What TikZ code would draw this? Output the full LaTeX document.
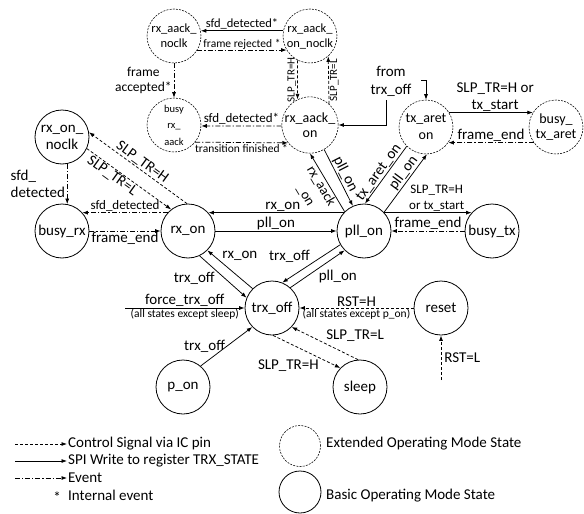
\documentclass[tikz,border=0pt]{standalone}
\usepackage{fontspec}
\setmainfont{Carlito}
\usetikzlibrary{arrows.meta}

\tikzset{
	basic/.style={circle, draw, line width=0.8pt, minimum size=54pt, inner sep=0pt, align=center, font=\fontsize{15}{17}\selectfont},
	ext/.style={basic, line width=0.55pt, dash pattern=on 2pt off 1.2pt},
	spi/.style={line width=0.75pt, -{Latex[length=5.5pt, width=4pt]}},
	ctrl/.style={spi, dash pattern=on 3pt off 2pt},
	evt/.style={spi, dash pattern=on 5pt off 2pt on 1.2pt off 2pt},
	lbl/.style={inner sep=1pt, align=center, font=\fontsize{15}{17}\selectfont},
	lblmid/.style={lbl, font=\fontsize{13}{16}\selectfont},
	lblsmall/.style={lbl, font=\fontsize{11.5}{13}\selectfont}
}

\begin{document}
\begin{tikzpicture}[x=1pt, y=-1pt]
	\useasboundingbox (0,0) rectangle (584,514);

	\node[ext, font=\fontsize{12.5}{15}\selectfont] (aacknoclk) at (174,36) {rx\_aack\_\\noclk};
	\node[ext, font=\fontsize{12.5}{15}\selectfont] (aackonnoclk) at (310,36) {rx\_aack\_\\on\_noclk};
	\node[ext, font=\fontsize{10.5}{16.5}\selectfont] (busyaack) at (174,125) {busy\\rx\_\\aack};
	\node[ext, font=\fontsize{14}{15}\selectfont] (aackon) at (310,125) {rx\_aack\_\\on};
	\node[ext, font=\fontsize{14}{17}\selectfont] (txareton) at (426,127) {tx\_aret\\on};
	\node[ext, font=\fontsize{14}{15}\selectfont] (busytxaret) at (556,127) {busy\_\\tx\_aret};

	\node[basic] (rxonnoclk) at (62,137) {rx\_on\_\\noclk};
	\node[basic] (busyrx) at (62,231) {busy\_rx};
	\node[basic] (rxon) at (188,231) {rx\_on};
	\node[basic] (pllon) at (364,231) {pll\_on};
	\node[basic] (busytx) at (492,231) {busy\_tx};
	\node[basic] (trxoff) at (272,308) {trx\_off};
	\node[basic] (reset) at (441,308) {reset};
	\node[basic] (pon) at (183,387) {p\_on};
	\node[basic] (sleep) at (360,387) {sleep};

	\draw[spi] (aackonnoclk.169) -- node[above, lblmid, font=\fontsize{12.5}{15}\selectfont] {sfd\_detected*} (aacknoclk.11);
	\draw[evt] (aacknoclk.-31) -- node[above, lblsmall, inner sep=0.5pt] {frame rejected *} (aackonnoclk.211);
	\draw[evt] (aacknoclk) -- node[left, lblmid, font=\fontsize{13.5}{15}\selectfont, inner sep=2pt] {frame\\accepted*} (busyaack);
	\draw[evt] (aackon.182) -- node[above, lblmid] {sfd\_detected*} (busyaack.-2);
	\draw[evt] (busyaack.-39) -- node[below, lblsmall] {transition finished *} (aackon.219);
	\draw[ctrl] (aackonnoclk.243.6) -- node[lblsmall, font=\fontsize{11}{13}\selectfont, rotate=90, anchor=south] {SLP\_TR=H} (aackon.116.4);
	\draw[ctrl] (aackon.48.2) -- node[lblsmall, font=\fontsize{11}{13}\selectfont, rotate=90, anchor=north] {SLP\_TR=L} (aackonnoclk.-48.2);

	\node[lbl, font=\fontsize{15}{18}\selectfont] (fromtrx) at (391,81) {from\\trx\_off};
	\coordinate (fromaack) at (386,100);
	\coordinate (fromaret) at (421,80);
	\draw[spi] (fromaack) |- (aackon.east);
	\draw[spi] (fromaret) -| (txareton.north);

	\draw[spi] (txareton.32) -- node[above, lbl, pos=0.55] {SLP\_TR=H or\\tx\_start} (busytxaret.148);
	\draw[evt] (busytxaret.215) -- node[above, lbl] {frame\_end} (txareton.-35);

	\draw[spi] (pllon.135) -- node[below, sloped, lbl, font=\fontsize{14}{18}\selectfont] {rx\_aack\\\_on} (aackon.270);
	\draw[spi] (aackon.300.6) -- node[above, sloped, lbl] {pll\_on} (pllon.114.8);
	\draw[spi] (txareton.225) -- node[above, sloped, lbl, pos=0.53] {tx\_aret\_on} (pllon.88);
	\draw[spi] (pllon.43.5) -- node[above, sloped, lbl, pos=0.6] {pll\_on} (txareton.-88);

	\draw[spi] (pllon.42) -- node[above, lblmid, pos=0.6] {SLP\_TR=H\\or tx\_start} (busytx.138);
	\draw[evt] (busytx.180) -- node[above, lbl] {frame\_end} (pllon.0);
	\draw[spi] (pllon.138) -- node[above, lbl, pos=0.45] {rx\_on} (rxon.42);
	\draw[spi] (rxon.0) -- node[above, lbl] {pll\_on} (pllon.180);

	\draw[ctrl] (rxon.92) -- node[above, sloped, lbl] {SLP\_TR=H} (rxonnoclk.10);
	\draw[ctrl] (rxonnoclk.-25.5) -- node[below, sloped, lbl, pos=0.35] {SLP\_TR=L} (rxon.128);
	\draw[evt] (rxonnoclk.-79) -- node[left, lbl, align=left, inner sep=2pt] {sfd\_\\detected} (busyrx.79);
	\draw[evt] (rxon.138) -- node[above, lblmid] {sfd\_detected} (busyrx.42);
	\draw[evt] (busyrx.0) -- node[below, lbl] {frame\_end} (rxon.180);

	\draw[spi] (trxoff.135) -- node[above right, lbl, pos=0.7] {rx\_on} (rxon.-45);
	\draw[spi] (rxon.-65) -- node[below left, lbl, pos=0.35] {trx\_off} (trxoff.158);
	\draw[spi] (pllon.210) -- node[above left, lbl] {trx\_off} (trxoff.68);
	\draw[spi] (trxoff.48) -- node[below right, lbl] {pll\_on} (pllon.225);

	\coordinate (forcein) at (125,308);
	\draw[spi] (forcein) -- node[above, lbl] {force\_trx\_off} node[below, lblsmall] {(all states except sleep)} (trxoff.west);
	\draw[ctrl] (reset.west) -- node[above, lbl] {RST=H} node[below, lblsmall] {(all states except p\_on)} (trxoff.east);
	\coordinate (rstlow) at (441,380);
	\draw[ctrl] (rstlow) -- node[right, lbl, inner sep=3pt] {RST=L} (reset.south);

	\draw[spi] (pon.50) -- node[left, lbl] {trx\_off} (trxoff.224);
	\draw[ctrl] (trxoff.272) -- node[below left, lbl, pos=0.7] {SLP\_TR=H} (sleep.136);
	\draw[ctrl] (sleep.94) -- node[above right, lbl] {SLP\_TR=L} (trxoff.316);

	\node[lbl, anchor=west] (keyctrltxt) at (67,444) {Control Signal via IC pin};
	\node[lbl, anchor=west] (keyspitxt) at (67,461) {SPI Write to register TRX\_STATE};
	\node[lbl, anchor=west] (keyevttxt) at (67,478) {Event};
	\node[lbl, anchor=west] (keyinttxt) at (67,495) {Internal event};
	\node[lbl] (keystar) at (57,497) {*};
	\coordinate (keyctrl) at (15,444);
	\coordinate (keyspi) at (15,461);
	\coordinate (keyevt) at (15,478);
	\draw[ctrl] (keyctrl) -- (keyctrltxt.west);
	\draw[spi] (keyspi) -- (keyspitxt.west);
	\draw[evt] (keyevt) -- (keyevttxt.west);

	\node[ext, minimum size=41pt] (keyext) at (300,446) {};
	\node[basic, minimum size=42pt] (keybasic) at (300,492) {};
	\node[lbl, anchor=west] (keyexttxt) at (325,444) {Extended Operating Mode State};
	\node[lbl, anchor=west] (keybasictxt) at (325,496) {Basic Operating Mode State};
\end{tikzpicture}
\end{document}
